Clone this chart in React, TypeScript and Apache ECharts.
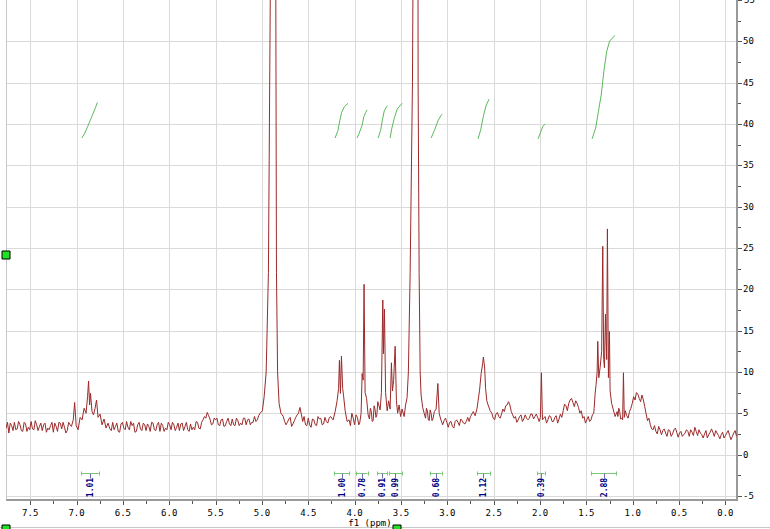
import React, { useEffect, useRef } from 'react';
import * as echarts from 'echarts';

// ---- axis ranges / ticks ----
const X_MIN = -0.125;
const X_MAX = 7.75;
const Y_MIN = -5.5;
const Y_MAX = 55;
const xMajorTicks = [0, 0.5, 1, 1.5, 2, 2.5, 3, 3.5, 4, 4.5, 5, 5.5, 6, 6.5, 7, 7.5];
const xMinorTicks = [0.25, 0.75, 1.25, 1.75, 2.25, 2.75, 3.25, 3.75, 4.25, 4.75, 5.25, 5.75, 6.25, 6.75, 7.25];
const yMajorTicks = [-5, 0, 5, 10, 15, 20, 25, 30, 35, 40, 45, 50, 55];
const yMinorTicks = [-2.5, 2.5, 7.5, 12.5, 17.5, 22.5, 27.5, 32.5, 37.5, 42.5, 47.5, 52.5];

// ---- spectrum (ppm, intensity) ----
const aromatic: [number, number][] = [
  [7.76, 3.2], [7.73, 2.6], [7.70, 3.5], [7.67, 3.9], [7.64, 3.1], [7.61, 3.6], [7.58, 2.8], [7.55, 3.7], [7.52, 3.3], [7.49, 4.0],
  [7.46, 3.0], [7.43, 3.6], [7.40, 3.4], [7.37, 2.9], [7.34, 3.8], [7.31, 3.2], [7.28, 3.5], [7.25, 2.7], [7.22, 3.4], [7.19, 3.9],
  [7.16, 3.1], [7.13, 3.3], [7.10, 2.9], [7.07, 3.6], [7.055, 3.4], [7.035, 4.2], [7.02, 6.3], [7.004, 3.5], [6.983, 3.0], [6.961, 4.5],
  [6.94, 4.2], [6.918, 5.6], [6.897, 5.0], [6.881, 7.0], [6.87, 8.9], [6.859, 6.0], [6.849, 7.4], [6.833, 5.2], [6.817, 4.8], [6.80, 5.6],
  [6.784, 6.6], [6.768, 4.5], [6.746, 4.9], [6.725, 3.6], [6.703, 4.3], [6.682, 3.2], [6.66, 3.8],
];
const aromaticFill: [number, number][] = [
  [7.745, 3.9], [7.715, 3.8], [7.685, 2.9], [7.655, 3.0], [7.625, 4.0], [7.595, 2.9], [7.565, 3.9], [7.535, 2.8], [7.505, 3.0], [7.475, 3.1],
  [7.445, 4.1], [7.415, 2.9], [7.385, 3.8], [7.355, 3.6], [7.325, 2.7], [7.295, 3.0], [7.265, 3.9], [7.235, 3.8], [7.205, 2.8], [7.175, 3.8],
  [7.145, 3.9], [7.115, 2.6], [7.085, 3.9],
];
const olefinic: [number, number][] = [
  [6.64, 3.1], [6.61, 3.9], [6.58, 3.4], [6.55, 2.8], [6.52, 3.7], [6.49, 3.2], [6.46, 4.0], [6.43, 3.0], [6.40, 3.5], [6.37, 2.7],
  [6.34, 3.6], [6.31, 3.1], [6.28, 3.8], [6.25, 2.9], [6.22, 3.4], [6.19, 3.9], [6.16, 3.0], [6.13, 3.6], [6.10, 2.8], [6.07, 3.5],
  [6.04, 3.2], [6.01, 3.9], [5.98, 3.0], [5.95, 3.6], [5.92, 3.3], [5.89, 2.9], [5.86, 3.8], [5.83, 3.4], [5.80, 3.0], [5.77, 3.7],
  [5.74, 3.3], [5.71, 4.0], [5.68, 3.2], [5.65, 3.9], [5.62, 4.6], [5.59, 5.1], [5.56, 4.3], [5.53, 3.7], [5.50, 4.2], [5.47, 3.6],
  [5.44, 4.2], [5.41, 3.4], [5.38, 4.0], [5.35, 3.7], [5.32, 4.3], [5.29, 3.5], [5.26, 4.1], [5.23, 3.8], [5.20, 4.4], [5.17, 3.6],
  [5.14, 4.3], [5.11, 3.9], [5.08, 4.6], [5.05, 4.2], [5.02, 5.0],
];
const olefinicFill: [number, number][] = [
  [6.625, 2.9], [6.595, 3.0], [6.565, 3.8], [6.535, 2.7], [6.505, 3.9], [6.475, 3.0], [6.445, 3.3], [6.415, 4.0], [6.385, 3.8], [6.355, 2.8],
  [6.325, 3.9], [6.295, 2.9], [6.265, 3.6], [6.235, 3.7], [6.205, 2.8], [6.175, 3.8], [6.145, 2.9], [6.115, 3.9], [6.085, 3.8], [6.055, 2.8],
  [6.025, 3.0], [5.995, 3.6], [5.965, 3.9], [5.935, 2.9], [5.905, 3.8], [5.875, 3.7], [5.845, 2.9], [5.815, 3.9], [5.785, 2.8], [5.755, 3.0],
  [5.725, 3.0], [5.695, 3.9], [5.665, 3.1], [5.635, 4.2], [5.605, 4.4], [5.575, 4.7], [5.545, 3.6], [5.515, 4.4], [5.485, 4.4], [5.455, 3.5],
  [5.425, 4.3], [5.395, 3.5], [5.365, 4.4], [5.335, 3.5], [5.305, 3.6], [5.275, 4.4], [5.245, 3.5], [5.215, 3.6], [5.185, 4.4], [5.155, 4.2],
  [5.125, 3.6], [5.095, 3.9], [5.065, 4.0], [5.035, 4.7],
];
const waterPeak: [number, number][] = [
  [4.995, 5.3], [4.976, 7.0], [4.954, 10], [4.93, 22], [4.91, 55], [4.879, 300], [4.85, 55], [4.843, 22], [4.831, 10], [4.815, 6.2], [4.795, 5.0],
];
const region475: [number, number][] = [
  [4.77, 4.6], [4.74, 3.6], [4.71, 4.3], [4.68, 3.4], [4.65, 4.1], [4.62, 4.8], [4.59, 5.7], [4.56, 4.0], [4.53, 3.6], [4.50, 4.4],
  [4.47, 3.3], [4.44, 4.2], [4.41, 3.5], [4.38, 4.3], [4.35, 3.6], [4.32, 4.5], [4.29, 3.8], [4.26, 4.6],
];
const region475Fill: [number, number][] = [
  [4.755, 4.0], [4.725, 3.9], [4.695, 4.5], [4.665, 3.7], [4.635, 4.5], [4.605, 5.0], [4.575, 4.9], [4.545, 4.6], [4.515, 3.5], [4.485, 3.6],
  [4.455, 4.3], [4.425, 3.6], [4.395, 4.6], [4.365, 4.4], [4.335, 3.7], [4.305, 4.0], [4.275, 4.4],
];
const peaks415: [number, number][] = [
  [4.232, 4.2], [4.21, 5.2], [4.189, 6.5], [4.173, 8.0], [4.164, 11.4], [4.153, 7.4], [4.142, 11.9], [4.129, 8.0], [4.119, 7.1], [4.102, 5.3], [4.081, 4.0],
  [4.06, 4.2], [4.045, 3.5], [4.03, 5.0], [4.015, 4.4], [4.00, 3.6], [3.985, 4.8], [3.97, 4.5], [3.955, 3.6], [3.945, 3.8],
];
const peaks390: [number, number][] = [
  [3.93, 5.0], [3.919, 9.8], [3.908, 9.0], [3.898, 20.6], [3.887, 7.5], [3.871, 6.8], [3.854, 4.8],
  [3.84, 4.3], [3.83, 5.6], [3.82, 5.2], [3.81, 4.0], [3.80, 4.1], [3.79, 5.9], [3.78, 5.5], [3.77, 4.5], [3.76, 4.8], [3.75, 6.4], [3.74, 6.0], [3.725, 5.4],
];
const peaks370: [number, number][] = [
  [3.711, 7.5], [3.696, 18.7], [3.689, 12.2], [3.678, 17.6], [3.666, 7.5], [3.649, 5.3], [3.633, 6.5], [3.617, 5.5], [3.603, 11.1], [3.592, 7.7],
  [3.579, 9.0], [3.563, 13.1], [3.549, 6.5], [3.536, 5.0], [3.52, 6.0], [3.504, 4.6], [3.488, 5.5], [3.466, 4.6], [3.45, 6.0], [3.434, 6.9],
];
const methanolPeak: [number, number][] = [
  [3.42, 10], [3.401, 22], [3.376, 45], [3.369, 60], [3.342, 300], [3.315, 45], [3.304, 22], [3.293, 10], [3.283, 7.2], [3.266, 5.7], [3.25, 5.0],
];
const region300: [number, number][] = [
  [3.235, 4.4], [3.225, 5.6], [3.215, 5.3], [3.205, 4.2], [3.195, 4.1], [3.185, 5.4], [3.175, 5.0], [3.165, 4.1], [3.155, 4.3], [3.14, 5.2],
  [3.121, 5.5], [3.102, 8.6], [3.088, 5.0], [3.072, 4.3],
  [3.05, 3.6], [3.02, 4.4], [2.99, 3.3], [2.96, 4.0], [2.93, 3.2], [2.90, 4.2], [2.87, 3.5], [2.84, 4.1], [2.81, 3.7], [2.78, 4.5],
  [2.75, 4.6], [2.72, 5.2], [2.70, 4.7],
];
const region300Fill: [number, number][] = [
  [3.035, 4.1], [3.005, 3.9], [2.975, 3.9], [2.945, 3.4], [2.915, 4.0], [2.885, 3.9], [2.855, 4.3], [2.825, 3.8], [2.795, 4.0], [2.765, 4.0], [2.735, 4.9],
];
const peak261: [number, number][] = [
  [2.679, 5.6], [2.668, 6.5], [2.652, 7.8], [2.635, 9.8], [2.619, 11.0], [2.611, 11.8], [2.598, 10.6], [2.587, 8.0], [2.574, 6.5], [2.56, 6.0], [2.538, 5.3],
];
const region225: [number, number][] = [
  [2.52, 5.0], [2.49, 4.2], [2.46, 5.1], [2.43, 4.4], [2.40, 5.5], [2.37, 5.9], [2.34, 6.4], [2.31, 5.2], [2.28, 4.4], [2.25, 3.9],
  [2.22, 4.6], [2.19, 4.0], [2.16, 4.8], [2.13, 4.2], [2.10, 4.9], [2.07, 4.3], [2.04, 4.9], [2.01, 4.0],
  [1.996, 4.5], [1.985, 9.9], [1.974, 4.2],
];
const region225Fill: [number, number][] = [
  [2.505, 4.4], [2.475, 4.9], [2.445, 4.6], [2.415, 4.9], [2.385, 5.2], [2.355, 6.0], [2.325, 6.0], [2.295, 4.8], [2.265, 4.6], [2.235, 4.2],
  [2.205, 4.8], [2.175, 4.3], [2.145, 4.4], [2.115, 4.4], [2.085, 4.9], [2.055, 4.6], [2.025, 4.5],
];
const region170: [number, number][] = [
  [1.96, 4.4], [1.93, 3.8], [1.90, 4.7], [1.87, 4.0], [1.84, 4.5], [1.81, 3.8], [1.78, 4.9], [1.75, 5.3], [1.72, 5.9], [1.69, 6.2],
  [1.66, 6.8], [1.63, 5.8], [1.60, 6.2], [1.57, 5.0], [1.54, 4.4], [1.51, 3.8], [1.48, 4.6], [1.45, 4.2], [1.42, 5.0],
];
const region170Fill: [number, number][] = [
  [1.945, 4.6], [1.915, 4.2], [1.885, 4.6], [1.855, 4.0], [1.825, 4.7], [1.795, 4.3], [1.765, 4.5], [1.735, 6.1], [1.705, 5.3], [1.675, 6.6],
  [1.645, 6.3], [1.615, 6.5], [1.585, 5.7], [1.555, 5.3], [1.525, 4.6], [1.495, 4.2], [1.465, 4.0], [1.435, 4.8],
];
const peaks130: [number, number][] = [
  [1.416, 5.6], [1.406, 7.3], [1.395, 8.5], [1.384, 10.0], [1.377, 13.7], [1.366, 9.3], [1.352, 10.5], [1.335, 12.5], [1.323, 25.2], [1.313, 11.5],
  [1.305, 10.5], [1.294, 17.0], [1.281, 11.5], [1.273, 27.3], [1.262, 9.3], [1.251, 14.9], [1.244, 7.7], [1.228, 6.2], [1.211, 5.5], [1.19, 4.6],
  [1.168, 5.2], [1.16, 4.6], [1.15, 5.6], [1.14, 5.2], [1.13, 4.3], [1.12, 4.4], [1.109, 4.2], [1.10, 9.9], [1.091, 4.5],
];
const region090: [number, number][] = [
  [1.08, 5.3], [1.05, 4.4], [1.02, 5.6], [0.99, 7.0], [0.96, 7.5], [0.93, 6.8], [0.90, 7.2], [0.87, 5.8], [0.84, 4.1], [0.81, 3.6], [0.78, 3.0],
];
const region090Fill: [number, number][] = [
  [1.065, 4.7], [1.035, 5.2], [1.005, 6.2], [0.975, 6.6], [0.945, 7.3], [0.915, 6.4], [0.885, 6.6], [0.855, 4.9], [0.825, 4.4], [0.795, 3.1], [0.765, 3.5],
];
const region040: [number, number][] = [
  [0.75, 2.8], [0.72, 3.4], [0.69, 2.4], [0.66, 3.1], [0.63, 2.2], [0.60, 2.9], [0.57, 2.5], [0.54, 3.2], [0.51, 2.1], [0.48, 2.8],
  [0.45, 2.4], [0.42, 3.0], [0.39, 2.2], [0.36, 2.7], [0.33, 3.3], [0.30, 2.3], [0.27, 2.6], [0.24, 2.0], [0.21, 2.9], [0.18, 2.4],
  [0.15, 3.1], [0.12, 2.2], [0.09, 2.6], [0.06, 1.9], [0.03, 2.7], [0.00, 2.3], [-0.03, 2.9], [-0.06, 1.8], [-0.09, 2.6], [-0.12, 2.2],
];
const region040Fill: [number, number][] = [
  [0.735, 2.5], [0.705, 3.0], [0.675, 2.9], [0.645, 2.6], [0.615, 3.0], [0.585, 2.2], [0.555, 3.0], [0.525, 2.7], [0.495, 2.6], [0.465, 2.2],
  [0.435, 2.6], [0.405, 2.8], [0.375, 3.0], [0.345, 2.3], [0.315, 2.8], [0.285, 3.0], [0.255, 2.4], [0.225, 2.5], [0.195, 2.0], [0.165, 2.7],
  [0.135, 2.7], [0.105, 2.9], [0.075, 2.3], [0.045, 2.4], [0.015, 2.0], [-0.015, 2.6], [-0.045, 2.3], [-0.075, 2.2], [-0.105, 2.9],
];

// ---- integral curves ----
const int1: [number, number][] = [[6.943, 38.3], [6.91, 38.9], [6.88, 39.7], [6.853, 40.4], [6.82, 41.3], [6.795, 42.0], [6.775, 42.6]];
const int2: [number, number][] = [[4.211, 38.3], [4.18, 39.2], [4.16, 40.4], [4.14, 41.4], [4.11, 42.1], [4.071, 42.5]];
const int3: [number, number][] = [[3.974, 38.3], [3.95, 38.9], [3.92, 39.8], [3.90, 40.9], [3.88, 41.4], [3.866, 41.7]];
const int4: [number, number][] = [[3.746, 38.3], [3.72, 39.2], [3.70, 40.5], [3.68, 41.6], [3.649, 42.2]];
const int5: [number, number][] = [[3.617, 38.3], [3.60, 39.4], [3.57, 40.8], [3.54, 41.8], [3.488, 42.5]];
const int6: [number, number][] = [[3.175, 38.3], [3.14, 39.2], [3.10, 40.4], [3.07, 41.0], [3.056, 41.2]];
const int7: [number, number][] = [[2.668, 38.2], [2.64, 39.3], [2.61, 41.0], [2.58, 42.3], [2.549, 43.0]];
const int8: [number, number][] = [[2.021, 38.2], [1.99, 39.1], [1.97, 39.7], [1.945, 40.0]];
const int9: [number, number][] = [[1.438, 38.2], [1.40, 39.5], [1.37, 41.5], [1.34, 43.5], [1.31, 46.5], [1.28, 48.8], [1.25, 50.0], [1.22, 50.4], [1.19, 50.7]];

const integralFrom = [6.95, 4.22, 3.99, 3.76, 3.63, 3.19, 2.68, 2.03, 1.45];
const integralTo = [6.76, 4.06, 3.86, 3.65, 3.49, 3.06, 2.54, 1.95, 1.18];
const integralValues = [1.01, 1.0, 0.78, 0.91, 0.99, 0.68, 1.12, 0.39, 2.88];

const BRACKET_LEVEL = -2.25;
const MONO = '"DejaVu Sans Mono", monospace';

function isMultiple(v: number, step: number) {
  const r = v / step;
  return Math.abs(r - Math.round(r)) < 1e-6;
}

const px = (v: number) => Math.round(v) + 0.5;

export default function App() {
  const ref = useRef<HTMLDivElement>(null);
  useEffect(() => {
    if (!ref.current) return;
    const chart = echarts.init(ref.current, undefined, { renderer: 'svg' });
    const spectrum = [
      ...aromatic, ...aromaticFill, ...olefinic, ...olefinicFill, ...waterPeak, ...region475, ...region475Fill,
      ...peaks415, ...peaks390, ...peaks370, ...methanolPeak, ...region300, ...region300Fill, ...peak261,
      ...region225, ...region225Fill, ...region170, ...region170Fill, ...peaks130, ...region090, ...region090Fill,
      ...region040, ...region040Fill,
    ].sort((a, b) => b[0] - a[0]);
    const integrals = [int1, int2, int3, int4, int5, int6, int7, int8, int9];

    const gridV = {
      type: 'custom', silent: true, z: 0,
      data: xMajorTicks.map((v) => [v, 0]),
      renderItem: (_p: any, api: any) => {
        const a = api.coord([api.value(0), Y_MAX]);
        const b = api.coord([api.value(0), Y_MIN]);
        return { type: 'line', shape: { x1: px(a[0]), y1: a[1], x2: px(b[0]), y2: b[1] }, style: { stroke: '#dadada', lineWidth: 1 } };
      },
    };
    const gridH = {
      type: 'custom', silent: true, z: 0,
      data: yMajorTicks.filter((v) => v < Y_MAX).map((v) => [0, v]),
      renderItem: (_p: any, api: any) => {
        const a = api.coord([X_MAX, api.value(1)]);
        const b = api.coord([X_MIN, api.value(1)]);
        return { type: 'line', shape: { x1: a[0], y1: px(a[1]), x2: b[0], y2: px(b[1]) }, style: { stroke: '#dadada', lineWidth: 1 } };
      },
    };
    const xTickMarks = {
      type: 'custom', silent: true, z: 1, clip: false,
      data: [...xMajorTicks.map((v) => [v, 1]), ...xMinorTicks.map((v) => [v, 0])],
      renderItem: (_p: any, api: any) => {
        const a = api.coord([api.value(0), Y_MIN]);
        const len = api.value(1) ? 4 : 3;
        return { type: 'line', shape: { x1: px(a[0]), y1: a[1] + 1, x2: px(a[0]), y2: a[1] + 1 + len }, style: { stroke: '#555', lineWidth: 1 } };
      },
    };
    const yTickMarks = {
      type: 'custom', silent: true, z: 1, clip: false,
      data: [...yMajorTicks.map((v) => [1, v]), ...yMinorTicks.map((v) => [0, v])],
      renderItem: (_p: any, api: any) => {
        const v = api.value(1);
        const a = api.coord([X_MIN, v]);
        const len = api.value(0) ? 4 : 3;
        const tick = { type: 'line', shape: { x1: a[0] + 1, y1: px(a[1]), x2: a[0] + 1 + len, y2: px(a[1]) }, style: { stroke: '#555', lineWidth: 1 } };
        if (v < Y_MAX) return tick;
        return {
          type: 'group',
          children: [
            tick,
            { type: 'text', x: a[0] + 7, y: a[1], style: { text: String(v), fill: '#000', font: `9px ${MONO}`, align: 'left', verticalAlign: 'middle' } },
          ],
        };
      },
    };
    const integralLabels = {
      type: 'custom', silent: true, z: 5, clip: false,
      data: integralFrom.map((f, i) => [f, integralTo[i], integralValues[i]]),
      renderItem: (_p: any, api: any) => {
        const a = api.coord([api.value(0), BRACKET_LEVEL]);
        const b = api.coord([api.value(1), BRACKET_LEVEL]);
        const y = px(a[1]);
        const cx = px((a[0] + b[0]) / 2);
        const g = '#78c878';
        return {
          type: 'group',
          children: [
            { type: 'line', shape: { x1: a[0], y1: y, x2: b[0], y2: y }, style: { stroke: g, lineWidth: 1 } },
            { type: 'line', shape: { x1: px(a[0]), y1: y - 2, x2: px(a[0]), y2: y + 2 }, style: { stroke: g, lineWidth: 1 } },
            { type: 'line', shape: { x1: px(b[0]), y1: y - 2, x2: px(b[0]), y2: y + 2 }, style: { stroke: g, lineWidth: 1 } },
            { type: 'line', shape: { x1: cx, y1: y, x2: cx, y2: y + 5 }, style: { stroke: '#7070b0', lineWidth: 1 } },
            {
              type: 'text', x: cx, y: y + 14, rotation: Math.PI / 2,
              style: { text: Number(api.value(2)).toFixed(2), fill: '#000080', font: `bold 8px ${MONO}`, align: 'center', verticalAlign: 'middle' },
            },
          ],
        };
      },
    };

    chart.setOption({
      animation: false,
      backgroundColor: '#ffffff',
      grid: { left: 7, right: 33, top: 0, bottom: 29 },
      xAxis: {
        type: 'value', inverse: true, min: X_MIN, max: X_MAX, interval: 0.125,
        splitLine: { show: false }, axisTick: { show: false },
        axisLine: { onZero: false, lineStyle: { color: '#999999', width: 2 } },
        axisLabel: {
          formatter: (v: number) => (isMultiple(v, 0.5) && v >= 0 ? v.toFixed(1) : ''),
          color: '#000', fontFamily: MONO, fontSize: 9, margin: 8,
        },
      },
      yAxis: {
        type: 'value', position: 'right', min: Y_MIN, max: Y_MAX, interval: 0.5,
        splitLine: { show: false }, axisTick: { show: false },
        axisLine: { onZero: false, lineStyle: { color: '#999999', width: 2 } },
        axisLabel: {
          formatter: (v: number) => (isMultiple(v, 5) && v < Y_MAX - 1 ? String(Math.round(v)) : ''),
          color: '#000', fontFamily: MONO, fontSize: 9, margin: 6,
        },
      },
      series: [
        gridV, gridH, xTickMarks, yTickMarks,
        {
          type: 'line', data: spectrum, showSymbol: false, symbol: 'none', z: 3, clip: true,
          lineStyle: { color: '#9b2a2a', width: 1 },
        },
        ...integrals.map((d) => ({
          type: 'line', data: d, showSymbol: false, symbol: 'none', z: 4,
          lineStyle: { color: '#5cb85c', width: 1 },
        })),
        integralLabels,
      ],
      graphic: [
        { type: 'line', shape: { x1: 6.5, y1: 0, x2: 6.5, y2: 500 }, style: { stroke: '#c8c8c8', lineWidth: 1 }, z: 0 },
        { type: 'line', shape: { x1: 0, y1: 527.5, x2: 770, y2: 527.5 }, style: { stroke: '#c8c8c8', lineWidth: 1 } },
        { type: 'text', x: 370, y: 523, style: { text: 'f1 (ppm)', font: `9px ${MONO}`, fill: '#000', align: 'center', verticalAlign: 'middle' } },
        { type: 'rect', shape: { x: 2, y: 251, width: 8, height: 8 }, style: { fill: '#22e022', stroke: '#000', lineWidth: 1 } },
        { type: 'rect', shape: { x: 2, y: 525, width: 8, height: 8 }, style: { fill: '#22e022', stroke: '#000', lineWidth: 1 } },
        { type: 'rect', shape: { x: 393, y: 525, width: 8, height: 8 }, style: { fill: '#22e022', stroke: '#000', lineWidth: 1 } },
      ],
    });
    return () => chart.dispose();
  }, []);
  return <div ref={ref} style={{ position: 'fixed', left: 0, top: 0, width: 770, height: 529 }} />;
}
